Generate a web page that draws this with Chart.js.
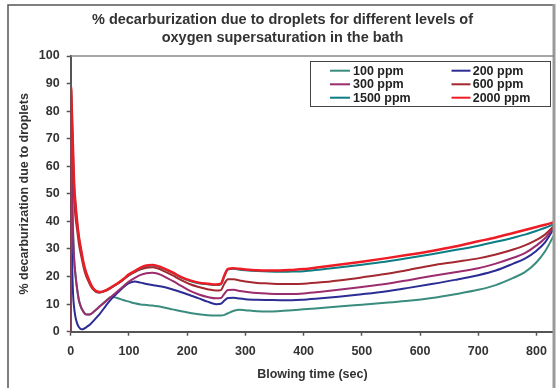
<!DOCTYPE html>
<html><head><meta charset="utf-8">
<script src="https://cdn.jsdelivr.net/npm/chart.js@4.4.1/dist/chart.umd.min.js"></script>
<style>html,body{margin:0;padding:0;background:#fff}#wrap{width:559px;height:388px;position:relative}</style>
</head><body><div id="wrap"><canvas id="c" width="559" height="388"></canvas></div>
<script>
// Blowing time (sec)
const times = [0, 0.5, 2, 4, 6, 8, 11, 14, 18, 22, 26, 30, 35, 40, 45, 50, 60, 70, 80, 90, 100, 110, 120, 130, 140, 150, 160, 175, 190, 205, 220, 235, 250, 258, 264, 270, 280, 290, 300, 320, 340, 360, 380, 400, 430, 460, 500, 540, 580, 620, 660, 700, 730, 760, 780, 800, 815, 830];
// % decarburization due to droplets
const ppm100 = [0, 90, 60, 38, 26, 21, 15.5, 11.5, 8.7, 7.2, 6.3, 6.2, 6.5, 7.3, 8.2, 9.2, 11, 12.7, 12.2, 11.5, 10.9, 10.3, 9.9, 9.7, 9.5, 9.2, 8.8, 8.1, 7.4, 6.8, 6.3, 6, 5.9, 5.9, 6.1, 6.7, 7.6, 8.0, 7.8, 7.4, 7.3, 7.5, 7.8, 8.1, 8.6, 9.1, 9.8, 10.5, 11.2, 12.2, 13.6, 15.2, 16.9, 19.5, 21.6, 25.2, 29.3, 35];
const ppm200 = [0, 60, 30, 14, 8.5, 5.5, 3, 1.7, 0.9, 1, 1.5, 2.1, 3, 4.1, 5.3, 6.5, 9.3, 11.9, 14, 16, 17.6, 18.2, 17.8, 17.3, 16.9, 16.6, 16.2, 15.3, 14.3, 13.2, 12.1, 10.9, 10, 10.1, 11.3, 12.2, 12.3, 12, 11.8, 11.6, 11.5, 11.4, 11.4, 11.6, 12.1, 12.7, 13.6, 14.6, 15.9, 17.3, 18.8, 20.5, 22.2, 24.7, 26.5, 29.4, 32.5, 37.5];
const ppm300 = [0, 70, 50, 35, 26, 21, 15.5, 11.5, 8.7, 7.2, 6.3, 6.2, 6.5, 7.3, 8.2, 9.2, 11, 12.8, 14.6, 16.4, 18.2, 19.5, 20.6, 21.2, 21.4, 21, 20.1, 18.4, 16.6, 14.8, 13.5, 12.6, 12.1, 12.2, 13.8, 15.1, 15.2, 14.8, 14.5, 14, 13.8, 13.7, 13.7, 13.9, 14.5, 15.2, 16.2, 17.3, 18.7, 20.2, 21.6, 23, 24.7, 26.8, 28.5, 31.3, 34, 38];
const ppm600 = [0, 85, 72, 58, 48, 42, 37, 32, 27.5, 23.5, 20.5, 18.5, 16.3, 15, 14.3, 14.2, 14.8, 16, 17.3, 18.8, 20.4, 21.6, 22.6, 23.2, 23.4, 22.9, 22, 20.4, 18.7, 17.2, 16.2, 15.4, 14.9, 15.1, 17.5, 19, 19, 18.6, 18.2, 17.7, 17.5, 17.3, 17.3, 17.4, 17.9, 18.6, 19.7, 20.9, 22.4, 24, 25.3, 26.6, 28, 29.8, 31.3, 33.3, 35.3, 38.4];
const ppm1500 = [0, 90, 79, 65, 52.5, 46.5, 39.6, 34.2, 29.2, 24.7, 21.6, 19.3, 16.9, 15.3, 14.5, 14.3, 15, 16.1, 17.4, 18.9, 20.6, 21.8, 23, 23.8, 24, 23.6, 22.8, 21.3, 19.6, 18.4, 17.6, 17.2, 16.9, 17.2, 20.2, 22.5, 22.8, 22.5, 22.3, 22.0, 21.8, 21.7, 21.8, 21.9, 22.6, 23.3, 24.3, 25.4, 26.7, 28.1, 29.6, 31.2, 32.6, 34.1, 35.2, 36.6, 37.7, 39];
const ppm2000 = [0, 89, 80, 66, 53, 47, 40, 34.5, 29.5, 25, 21.8, 19.5, 17, 15.4, 14.6, 14.4, 15, 16.2, 17.5, 19, 20.8, 22, 23.2, 24, 24.2, 23.8, 23, 21.5, 19.8, 18.6, 17.8, 17.4, 17.1, 17.4, 20.5, 22.8, 23, 22.8, 22.6, 22.3, 22.2, 22.2, 22.4, 22.7, 23.5, 24.3, 25.4, 26.6, 27.9, 29.3, 30.9, 32.8, 34.2, 35.8, 36.9, 38, 38.8, 39.7];
const seriesLabels = ['100 ppm', '200 ppm', '300 ppm', '600 ppm', '1500 ppm', '2000 ppm'];
const xTickValues = [0, 100, 200, 300, 400, 500, 600, 700, 800];
const yTickValues = [0, 10, 20, 30, 40, 50, 60, 70, 80, 90, 100];
const titleLines = ['% decarburization due to droplets for different levels of', 'oxygen supersaturation in the bath'];
const xTitle = 'Blowing time (sec)';
const yTitle = '% decarburization due to droplets';

const seriesValues = [ppm100, ppm200, ppm300, ppm600, ppm1500, ppm2000];
const colors = ['#3a8c7e', '#2b2c94', '#9b2c6e', '#a3282f', '#0b7d84', '#ee1d25'];
const widths = [2, 2, 2, 2, 2, 2.5];
const FONT = '"Liberation Sans", Arial, sans-serif';

const datasets = seriesValues.map((vals, i) => ({
  label: seriesLabels[i],
  data: vals.map((v, k) => ({x: times[k], y: v})),
  borderColor: colors[i],
  backgroundColor: colors[i],
  borderWidth: widths[i],
  pointRadius: 0,
  fill: false,
  cubicInterpolationMode: 'monotone',
  order: seriesValues.length - 1 - i
}));

const decor = {
  id: 'decor',
  beforeDraw(chart) {
    const ctx = chart.ctx, a = chart.chartArea;
    ctx.save();
    ctx.fillStyle = '#fff';
    ctx.fillRect(0, 0, chart.width, chart.height);
    ctx.restore();
  },
  afterDraw(chart) {
    const ctx = chart.ctx, a = chart.chartArea;
    ctx.save();
    // outer frame
    ctx.strokeStyle = '#555'; ctx.lineWidth = 1.5;
    ctx.beginPath(); ctx.moveTo(8, 400); ctx.lineTo(8, 5); ctx.lineTo(553, 5); ctx.stroke();
    ctx.strokeStyle = '#9a9a9a'; ctx.lineWidth = 3;
    ctx.beginPath(); ctx.moveTo(554, 4); ctx.lineTo(554, 400); ctx.stroke();
    // plot top border
    ctx.strokeStyle = '#888'; ctx.lineWidth = 1.5;
    ctx.beginPath(); ctx.moveTo(a.left, a.top); ctx.lineTo(a.right, a.top); ctx.stroke();
    // title
    ctx.fillStyle = '#333';
    ctx.textAlign = 'center'; ctx.textBaseline = 'middle';
    ctx.font = 'bold 14.5px ' + FONT;
    ctx.fillText(titleLines[0], 282.5, 20);
    ctx.fillText(titleLines[1], 282.5, 38);
    // axis titles
    ctx.font = 'bold 12.5px ' + FONT;
    ctx.fillText(xTitle, (a.left + a.right) / 2, 375);
    ctx.save();
    ctx.translate(25, (a.top + a.bottom) / 2);
    ctx.rotate(-Math.PI / 2);
    ctx.fillText(yTitle, 0, 0);
    ctx.restore();
    // legend
    ctx.fillStyle = '#fff';
    ctx.fillRect(310.5, 61.5, 240, 45);
    ctx.strokeStyle = '#444'; ctx.lineWidth = 1;
    ctx.strokeRect(310.5, 61.5, 240, 45);
    const rows = [70.7, 84.3, 97.7];
    const cols = [[330, 350, 353], [451.5, 470.5, 472.7]];
    ctx.font = 'bold 12.5px ' + FONT;
    ctx.textAlign = 'left';
    chart.data.datasets.forEach((ds, i) => {
      const r = Math.floor(i / 2), c = i % 2;
      const y = rows[r];
      ctx.strokeStyle = ds.borderColor; ctx.lineWidth = 2;
      ctx.beginPath(); ctx.moveTo(cols[c][0], y); ctx.lineTo(cols[c][1], y); ctx.stroke();
      ctx.fillStyle = '#222';
      ctx.fillText(ds.label, cols[c][2], y + 0.5);
    });
    ctx.restore();
  }
};

const tickFont = {family: FONT, size: 12.5, weight: 'bold'};
new Chart(document.getElementById('c'), {
  type: 'line',
  data: {datasets},
  options: {
    responsive: false,
    devicePixelRatio: 1,
    animation: false,
    layout: {padding: {top: 56, left: 8, right: 5, bottom: 0}},
    plugins: {legend: {display: false}, title: {display: false}, tooltip: {enabled: false}},
    scales: {
      x: {
        type: 'linear', min: 0, max: 830,
        afterBuildTicks: s => { s.ticks = xTickValues.map(v => ({value: v})); },
        afterFit: s => { s.height = 56.3; },
        grid: {drawOnChartArea: false, drawTicks: true, tickLength: 4, tickColor: '#555', tickWidth: 1.5},
        border: {display: true, color: '#555', width: 2},
        ticks: {font: tickFont, color: '#333', padding: 8, maxRotation: 0, autoSkip: false}
      },
      y: {
        type: 'linear', min: 0, max: 100,
        afterBuildTicks: s => { s.ticks = yTickValues.map(v => ({value: v})); },
        afterFit: s => { s.width = 62.7; },
        grid: {drawOnChartArea: false, drawTicks: true, tickLength: 4, tickColor: '#555', tickWidth: 1.5},
        border: {display: true, color: '#555', width: 2},
        ticks: {font: tickFont, color: '#333', padding: 7, autoSkip: false}
      }
    }
  },
  plugins: [decor]
});
</script></body></html>
